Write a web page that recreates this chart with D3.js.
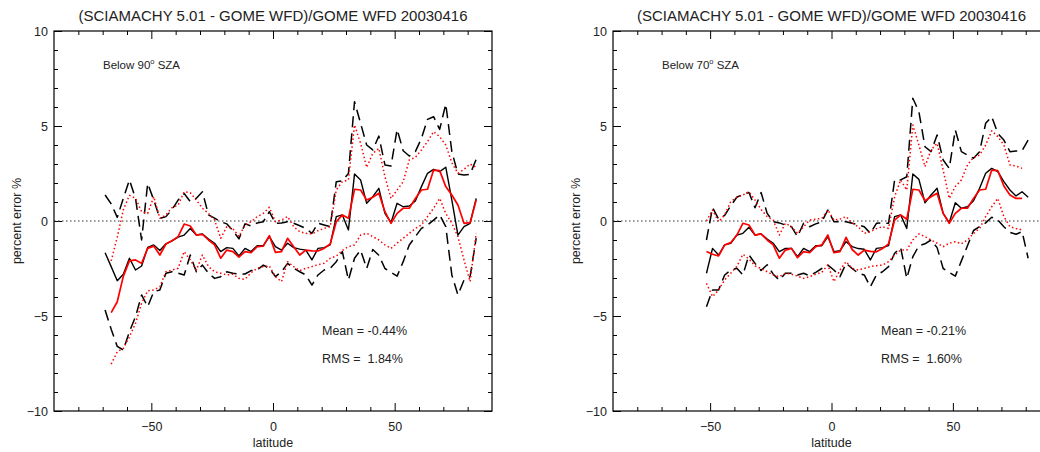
<!DOCTYPE html>
<html>
<head>
<meta charset="utf-8">
<script src="https://cdn.jsdelivr.net/npm/d3@7"></script>
<style>
	body { margin: 0; background: #fff; }
	svg { display: block; }
	text { font-family: "Liberation Sans", Arial, Helvetica, sans-serif; fill: #222; }
</style>
</head>
<body>
<svg id="chart" width="1040" height="452"></svg>
<script>
//------------------------------------------------------------------------------
// Data
//------------------------------------------------------------------------------

var title_text = "(SCIAMACHY 5.01 - GOME WFD)/GOME WFD 20030416";

// latitude bins shared by every curve
var lat = [-69, -66.5, -64, -61.5, -59, -56.5, -54, -51.5, -49, -46.5,
	-44, -41.5, -39, -36.5, -34, -31.5, -29, -26.5, -24, -21.5,
	-19, -16.5, -14, -11.5, -9, -6.5, -4, -1.5, 1, 3.5,
	6, 8.5, 11, 13.5, 16, 18.5, 21, 23.5, 26, 28.5,
	31, 33.5, 36, 38.5, 41, 43.5, 46, 48.5, 51, 53.5,
	56, 58.5, 61, 63.5, 66, 68.5, 71, 73.5, 76, 78.5,
	81, 83.5];

var x_major = [-50, 0, 50];
var x_minor = [-80, -70, -60, -40, -30, -20, -10, 10, 20, 30, 40, 60, 70, 80];
var y_major = [-10, -5, 0, 5, 10];
var y_minor = [-9, -8, -7, -6, -4, -3, -2, -1, 1, 2, 3, 4, 6, 7, 8, 9];

// left panel: below 90 deg SZA
var sza90_black = [-1.67, -2.4, -3.14, -2.8, -1.96, -2.58, -2.37, -1.39, -1.26, -1.55,
	-1.2, -1.05, -0.85, -0.74, -0.39, -0.74, -0.68, -0.95, -1.17, -1.61,
	-1.40, -1.44, -1.84, -1.44, -1.61, -1.30, -1.30, -0.82, -1.35, -1.53,
	-1.17, -1.40, -1.48, -1.53, -2.05, -1.44, -1.40, -1.26, 0.23, 0.32,
	-0.47, 2.47, 2.16, 0.93, 1.28, 1.72, 0.40, -0.09, 0.93, 0.75,
	0.79, 1.05, 1.81, 2.51, 2.72, 2.60, 2.83, 1.10, -0.74, -0.30,
	-0.12, 1.19];
var sza90_black_hi = [1.37, 0.9, 0.19, 1.2, 2.16, 1.19, -1.0, 1.98, 1.10, 0.14,
	0.23, 0.6, 1.10, 1.45, 1.02, 1.2, 1.54, 0.32, 0.15, -0.04,
	-0.15, -0.5, -0.94, -0.15, -0.26, -0.1, -0.04, 0.49, -0.12, -0.1,
	-0.04, -0.12, -0.25, -0.39, -0.65, -0.12, -0.21, -0.30, 2.07, 2.12,
	2.5, 6.28, 5.14, 4.0, 3.74, 4.47, 2.95, 2.89, 4.82, 3.70,
	3.42, 3.65, 4.35, 5.35, 5.49, 4.82, 6.16, 3.65, 2.47, 2.42,
	2.46, 3.25];
var sza90_black_lo = [-4.68, -5.7, -6.6, -6.79, -5.82, -5.04, -3.89, -4.51, -3.72, -3.63,
	-2.75, -2.67, -2.75, -2.84, -1.79, -2.67, -2.32, -2.75, -3.02, -2.93,
	-2.67, -2.75, -2.79, -2.79, -2.61, -2.58, -2.32, -2.49, -2.93, -2.67,
	-2.23, -2.49, -2.67, -2.84, -3.37, -2.84, -2.58, -2.49, -2.14, -1.61,
	-3.11, -1.96, -1.53, -2.5, -1.5, -1.8, -2.5, -2.7, -2.9, -2.14,
	-1.26, -0.82, -0.39, -0.21, 0.05, 0.32, -0.30, -2.84, -3.89, -3.11,
	-2.93, -0.9];
var sza90_red = [null, -4.82, -4.25, -2.9, -2.1, -2.05, -2.23, -1.44, -1.32, -1.79,
	-1.21, -1.04, -0.82, -0.16, -0.26, -0.74, -0.70, -1.0, -1.26, -1.96,
	-1.53, -1.61, -1.90, -1.61, -1.67, -1.35, -1.32, -0.77, -1.65, -1.61,
	-0.91, -1.35, -1.79, -1.53, -1.57, -1.58, -1.44, -1.21, -0.04, 0.32,
	0.14, 1.67, 1.63, 1.10, 1.25, 1.46, 0.49, -0.12, 0.40, 0.67,
	0.67, 1.19, 1.63, 1.67, 2.68, 2.65, 1.81, 1.37, 0.84, -0.12,
	-0.09, 1.10];
var sza90_red_hi = [null, -2.1, -0.85, 0.6, 1.35, 1.2, 0.49, 0.40, 1.28, 0.14,
	0.32, 0.7, 0.84, 1.54, 1.49, 1.1, 0.67, 0.4, 0.05, -0.91,
	-0.30, -0.4, -0.82, -0.2, -0.04, 0.23, 0.4, 0.72, -0.04, 0.05,
	0.23, -0.30, -0.56, -0.65, -0.68, -0.51, -0.39, -0.30, 1.63, 2.07,
	2.16, 5.05, 4.09, 2.82, 3.56, 3.82, 2.33, 1.19, 1.63, 2.07,
	3.21, 3.35, 3.74, 4.18, 4.70, 4.44, 4.0, 3.07, 2.51, 2.72,
	3.0, 2.82];
var sza90_red_lo = [null, -7.53, -6.88, -6.7, -6.09, -5.39, -4.33, -3.67, -3.63, -3.46,
	-2.67, -2.58, -2.49, -1.61, -2.05, -2.58, -1.79, -2.40, -2.67, -2.75,
	-2.84, -2.8, -3.02, -3.07, -2.72, -2.49, -2.4, -2.37, -2.93, -3.19,
	-2.14, -2.40, -2.61, -2.49, -2.40, -2.3, -2.23, -1.96, -1.85, -1.55,
	-1.35, -1.26, -0.74, -0.65, -0.82, -1.0, -1.26, -1.44, -1.17, -0.91,
	-0.65, -0.39, -0.21, 0.23, 0.67, 1.19, 0.40, -0.12, -0.82, -2.05,
	-3.19, -0.65];

// right panel: below 70 deg SZA
var sza70_black = [null, null, null, null, null, null, null, -2.75, -1.44, -1.79,
	-1.26, -1.17, -0.74, -0.65, -0.33, -0.74, -0.68, -0.95, -1.17, -1.61,
	-1.44, -1.44, -1.88, -1.44, -1.61, -1.30, -1.30, -0.82, -1.61, -1.56,
	-1.09, -1.35, -1.45, -1.49, -2.05, -1.44, -1.40, -1.30, 0.23, 0.32,
	-0.39, 2.47, 2.19, 0.96, 1.37, 1.72, 0.40, -0.09, 0.96, 0.67,
	0.75, 1.07, 1.72, 2.51, 2.77, 2.60, 2.07, 1.63, 1.32, 1.54,
	1.25, null];
var sza70_black_hi = [null, null, null, null, null, null, null, -1.0, 0.7, 0.1,
	0.3, 0.8, 1.25, 1.4, 1.5, 0.7, 1.5, 0.40, -0.04, -0.1,
	-0.21, -0.30, -0.82, -0.12, -0.30, -0.15, -0.04, 0.58, -0.04, -0.04,
	-0.04, -0.12, -0.2, -0.3, -0.65, -0.12, -0.1, -0.12, 2.16, 2.16,
	2.33, 6.46, 5.75, 3.91, 3.65, 4.53, 3.21, 2.77, 4.79, 3.65,
	3.47, 3.3, 3.65, 5.14, 5.49, 4.61, 4.26, 3.65, 3.68, 3.70,
	4.26, null];
var sza70_black_lo = [null, null, null, null, null, null, null, -4.51, -3.63, -3.63,
	-2.84, -2.58, -2.49, -2.84, -1.79, -2.23, -2.6, -2.3, -2.8, -3.11,
	-2.75, -2.75, -2.84, -2.75, -2.89, -2.7, -2.5, -2.32, -2.58, -2.93,
	-2.23, -2.5, -2.75, -2.84, -3.46, -2.84, -2.67, -2.40, -1.70, -1.4,
	-3.02, -1.88, -1.3, -1.2, -1.0, -1.4, -2.5, -2.7, -2.9, -2.1,
	-1.3, -0.5, -0.3, -0.1, 0.2, 0.05, -0.3, -0.6, -0.7, -0.56,
	-1.96, null];
var sza70_red = [null, null, null, null, null, null, null, -1.61, -1.75, -1.84,
	-1.26, -1.14, -0.74, -0.12, -0.21, -0.74, -0.68, -1.0, -1.26, -1.96,
	-1.53, -1.44, -1.93, -1.61, -1.67, -1.35, -1.26, -0.74, -1.67, -1.61,
	-0.86, -1.5, -1.79, -1.53, -1.6, -1.62, -1.45, -1.2, 0.05, 0.32,
	0.09, 1.67, 1.63, 1.07, 1.28, 1.46, 0.40, -0.12, 0.40, 0.67,
	0.67, 1.19, 1.63, 1.67, 2.68, 2.65, 1.84, 1.37, 1.19, 1.19,
	null, null];
var sza70_red_hi = [null, null, null, null, null, null, null, 0.0, 0.58, -0.04,
	0.32, 1.02, 1.25, 1.37, 1.54, 1.1, 0.6, 0.23, 0.05, -0.74,
	-0.12, -0.3, -0.65, -0.30, 0.05, 0.1, 0.14, 0.58, 0.05, 0.1,
	0.23, -0.1, -0.30, -0.65, -0.56, -0.4, -0.30, -0.39, 1.28, 2.16,
	1.63, 5.05, 4.0, 2.86, 3.74, 4.09, 2.68, 1.19, 1.81, 2.16,
	2.95, 3.35, 3.47, 4.0, 4.75, 4.44, 4.0, 2.95, 2.89, 2.77,
	null, null];
var sza70_red_lo = [null, null, null, null, null, null, null, -3.28, -3.98, -3.63,
	-3.1, -2.75, -2.4, -1.75, -2.0, -2.36, -2.5, -2.67, -2.84, -2.93,
	-2.75, -2.8, -2.9, -3.02, -2.93, -2.8, -2.7, -2.32, -3.19, -2.58,
	-2.14, -2.49, -2.58, -2.5, -2.40, -2.35, -2.32, -2.14, -1.79, -1.53,
	-1.53, -1.0, -0.68, -0.82, -1.0, -1.17, -1.35, -1.17, -1.09, -1.2,
	-1.0, -0.65, -0.39, 0.23, 0.75, 1.19, 0.23, -0.30, -0.39, -0.47,
	null, null];


//------------------------------------------------------------------------------
// Plotting functions
//------------------------------------------------------------------------------

function plot_panel(svg, p) {
	var x = d3.scaleLinear().domain([-90, 90]).range([p.left, p.right]);
	var y = d3.scaleLinear().domain([-10, 10]).range([411, 31]);

	var g = svg.append("g");

	// ticks on all four sides, pointing inwards (IDL style)
	function ticks(axis, transform, size, values, labels) {
		var a = axis.tickValues(values).tickSize(-size).tickPadding(labels ? labels : 0);
		if (!labels) a.tickFormat("");
		var t = g.append("g").attr("transform", transform).call(a);
		t.select(".domain").remove();
		t.selectAll("line").attr("stroke", "#000");
		t.selectAll("text").attr("fill", "#222").style("font-size", "12.5px")
			.style("font-family", "Liberation Sans, Arial, sans-serif");
		return t;
	}
	ticks(d3.axisBottom(x), "translate(0,411)", 4, x_minor);
	ticks(d3.axisBottom(x), "translate(0,411)", 8, x_major, 11);
	ticks(d3.axisTop(x), "translate(0,31)", 4, x_minor);
	ticks(d3.axisTop(x), "translate(0,31)", 8, x_major);
	ticks(d3.axisLeft(y), "translate(" + p.left + ",0)", 4, y_minor);
	ticks(d3.axisLeft(y), "translate(" + p.left + ",0)", 8, y_major, 6);
	ticks(d3.axisRight(y), "translate(" + p.right + ",0)", 4, y_minor);
	ticks(d3.axisRight(y), "translate(" + p.right + ",0)", 8, y_major);

	g.append("rect")
		.attr("x", p.left).attr("y", 31)
		.attr("width", p.right - p.left).attr("height", 380)
		.attr("fill", "none").attr("stroke", "#000").attr("stroke-width", 1.2);

	// zero line
	g.append("line")
		.attr("x1", p.left).attr("x2", p.right)
		.attr("y1", y(0)).attr("y2", y(0))
		.attr("stroke", "#333").attr("stroke-width", 1.2)
		.attr("stroke-dasharray", "1.5,2.5");

	var line = d3.line()
		.defined(function(d) { return d[1] !== null; })
		.x(function(d) { return x(d[0]); })
		.y(function(d) { return y(d[1]); });

	function curve(vals, color, width, dash) {
		g.append("path")
			.datum(lat.map(function(l, i) { return [l, vals[i]]; }))
			.attr("d", line)
			.attr("fill", "none")
			.attr("stroke", color)
			.attr("stroke-width", width)
			.attr("stroke-dasharray", dash)
			.attr("stroke-linejoin", "round");
	}
	curve(p.black_hi, "#000", 1.5, "11,6");
	curve(p.black_lo, "#000", 1.5, "11,6");
	curve(p.red_hi, "#ff0000", 1.5, "1.5,2.5");
	curve(p.red_lo, "#ff0000", 1.5, "1.5,2.5");
	curve(p.black, "#000", 1.4, null);
	curve(p.red, "#ff0000", 1.7, null);

	// texts
	var cx = (p.left + p.right) / 2;
	g.append("text").attr("x", cx).attr("y", 21)
		.attr("text-anchor", "middle").style("font-size", "15px")
		.text(title_text);
	g.append("text").attr("x", cx).attr("y", 447)
		.attr("text-anchor", "middle").style("font-size", "12.5px")
		.text("latitude");
	g.append("text")
		.attr("transform", "translate(" + (p.left - 33) + "," + y(0) + ") rotate(-90)")
		.attr("text-anchor", "middle").style("font-size", "12.5px")
		.text("percent error %");

	var sza = g.append("text").attr("x", p.left + 49).attr("y", 68.5)
		.style("font-size", "11.5px");
	sza.append("tspan").text("Below " + p.sza);
	sza.append("tspan").attr("dy", -5).style("font-size", "7.5px").text("o");
	sza.append("tspan").attr("dy", 5).text(" SZA");

	g.append("text").attr("x", p.left + 268).attr("y", 335)
		.style("font-size", "12.5px").text("Mean = " + p.mean);
	g.append("text").attr("x", p.left + 268).attr("y", 363)
		.style("font-size", "12.5px").attr("xml:space", "preserve")
		.text("RMS =  " + p.rms);
}


//------------------------------------------------------------------------------
// Main
//------------------------------------------------------------------------------

function main() {
	var svg = d3.select("#chart");

	plot_panel(svg, {left: 54, right: 492, sza: "90", mean: "-0.44%", rms: "1.84%",
		black: sza90_black, black_hi: sza90_black_hi, black_lo: sza90_black_lo,
		red: sza90_red, red_hi: sza90_red_hi, red_lo: sza90_red_lo});

	// the right panel runs past the edge of the picture
	plot_panel(svg, {left: 613, right: 1050, sza: "70", mean: "-0.21%", rms: "1.60%",
		black: sza70_black, black_hi: sza70_black_hi, black_lo: sza70_black_lo,
		red: sza70_red, red_hi: sza70_red_hi, red_lo: sza70_red_lo});
}

main();
</script>
</body>
</html>
